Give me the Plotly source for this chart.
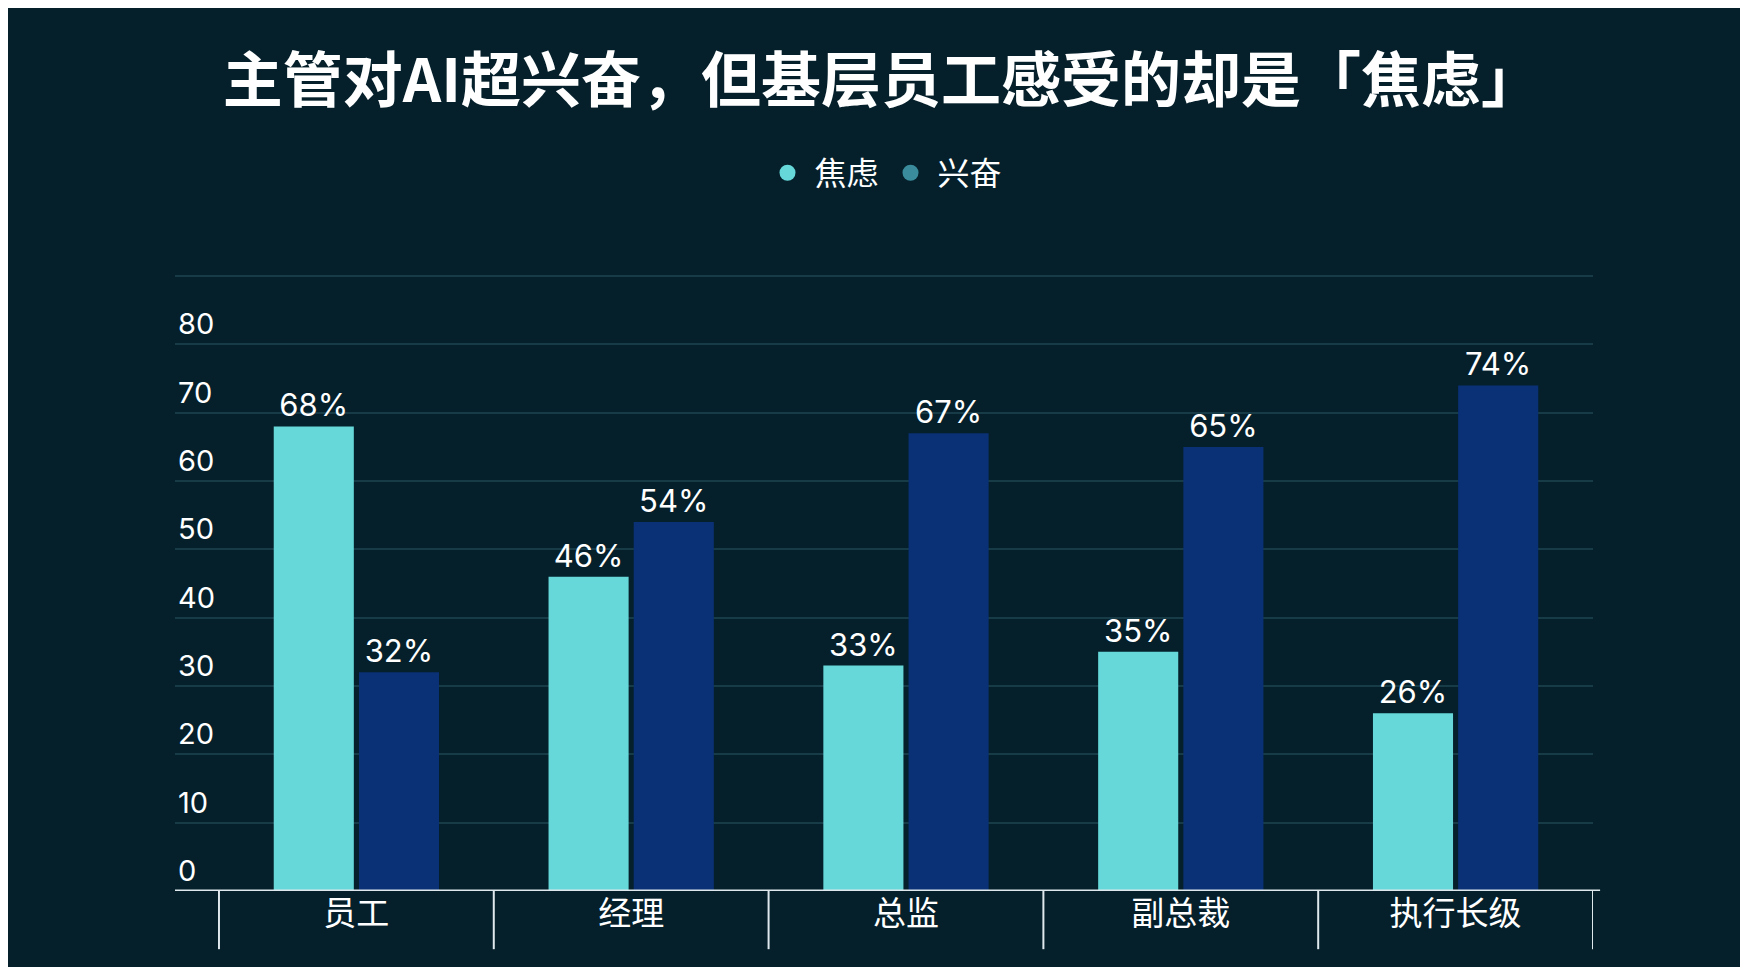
import plotly.graph_objects as go

# 数据
categories = ["员工", "经理", "总监", "副总裁", "执行长级"]
anxious = [68, 46, 33, 35, 26]
excited = [32, 54, 67, 65, 74]
y_ticks = [0, 10, 20, 30, 40, 50, 60, 70, 80, 90]

bg = "#05202b"
cyan = "#66d8da"
navy = "#0a3176"
font = "Noto Sans CJK SC"

x_idx = list(range(len(categories)))

fig = go.Figure()

fig.add_trace(go.Bar(
    x=x_idx, y=anxious, name="焦虑",
    marker=dict(color=cyan, line=dict(width=0)),
    text=[f"{v}%" for v in anxious], textposition="outside",
    textfont=dict(color="white", size=31, family="Inter"),
    cliponaxis=False, showlegend=False
))
fig.add_trace(go.Bar(
    x=x_idx, y=excited, name="兴奋",
    marker=dict(color=navy, line=dict(width=0)),
    text=[f"{v}%" for v in excited], textposition="outside",
    textfont=dict(color="white", size=31, family="Inter"),
    cliponaxis=False, showlegend=False
))

# 图例用的圆点
fig.add_trace(go.Scatter(x=[None], y=[None], mode="markers", name="焦虑",
                         marker=dict(color=cyan, size=36, symbol="circle")))
fig.add_trace(go.Scatter(x=[None], y=[None], mode="markers", name="兴奋",
                         marker=dict(color="#3a8c9c", size=36, symbol="circle")))

# 底部分隔线
for i in range(len(categories) + 1):
    fig.add_shape(type="line", xref="x", yref="paper",
                  x0=i - 0.5, x1=i - 0.5, y0=0, y1=-0.094,
                  line=dict(color="#dfe8ec", width=2))
fig.add_shape(type="line", xref="paper", yref="y", x0=0, x1=1.005, y0=0, y1=0,
              line=dict(color="#dfe8ec", width=3))

fig.update_layout(
    width=1748, height=967,
    paper_bgcolor=bg, plot_bgcolor=bg,
    margin=dict(l=167, r=163, t=264, b=84),
    barmode="group", bargap=0.38, bargroupgap=0.06,
    title=dict(text="<b>主管对AI超兴奋，但基层员工感受的却是「焦虑」</b>",
               x=0.5, xanchor="center", y=0.925, yanchor="middle",
               font=dict(family=font, size=60, color="white")),
    legend=dict(orientation="h", x=0.5, xanchor="center", y=1.16, yanchor="middle",
                font=dict(family=font, size=32, color="white"),
                itemwidth=44, bgcolor="rgba(0,0,0,0)"),
    xaxis=dict(tickmode="array", tickvals=x_idx, ticktext=categories,
               range=[-0.66, 4.5], showgrid=False, zeroline=False,
               showline=False, ticks="",
               tickfont=dict(family=font, size=33, color="white")),
    yaxis=dict(range=[0, 90.6], tickvals=y_ticks, ticklabelposition="inside top",
               showgrid=True, gridcolor="#173b47", gridwidth=2,
               zeroline=False, showline=False,
               tickfont=dict(family="Inter", size=29, color="white")),
)

fig.write_html("out.html")
